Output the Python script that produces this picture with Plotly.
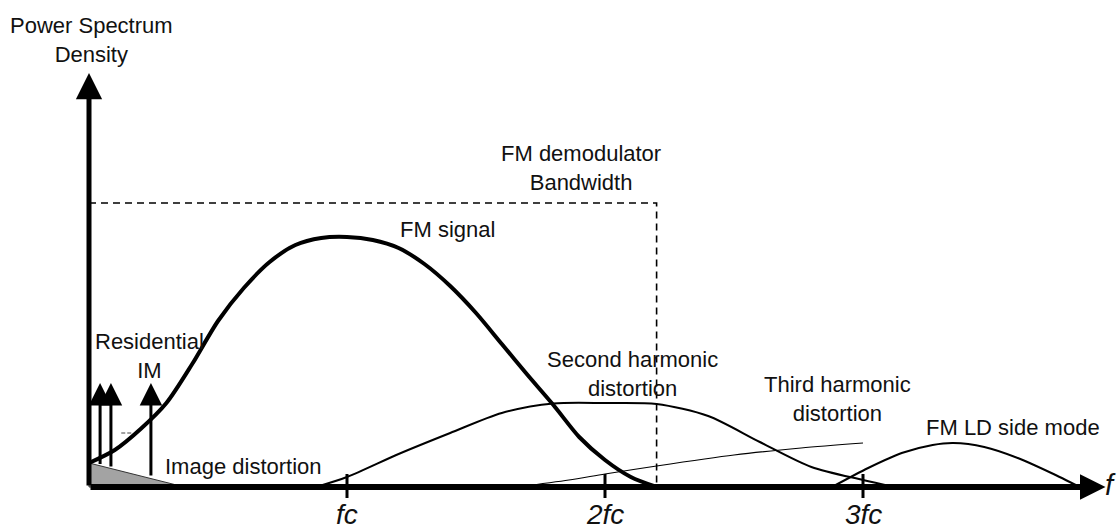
import plotly.graph_objects as go

# frequency axis in units of the carrier fc, PSD in arbitrary units
fm_x = [0.0, 0.1, 0.2, 0.3, 0.4, 0.5, 0.6, 0.7, 0.8, 0.9, 1.0, 1.1, 1.2, 1.3, 1.4, 1.5,
        1.6, 1.7, 1.8, 1.9, 2.0, 2.1, 2.2]
fm_y = [0.24, 0.37, 0.58, 0.84, 1.23, 1.66, 1.99, 2.25, 2.42, 2.49, 2.50, 2.47, 2.39, 2.23,
        2.01, 1.74, 1.43, 1.12, 0.82, 0.50, 0.27, 0.10, 0.0]

h2_x = [0.88, 1.0, 1.2, 1.4, 1.6, 1.8, 2.0, 2.2, 2.4, 2.6, 2.8, 3.0, 3.12]
h2_y = [0.0, 0.10, 0.33, 0.54, 0.74, 0.835, 0.84, 0.83, 0.71, 0.45, 0.20, 0.07, 0.0]

h3_x = [1.66, 1.86, 2.00, 2.20, 2.50, 2.76, 3.00]
h3_y = [0, 0.07, 0.13, 0.21, 0.32, 0.39, 0.44]

side_x = [2.88, 3.02, 3.15, 3.27, 3.35, 3.47, 3.60, 3.73, 3.84]
side_y = [0, 0.19, 0.34, 0.42, 0.44, 0.40, 0.29, 0.14, 0]

im_x = [0.043, 0.085, 0.24]
im_base = [0.215, 0.19, 0.10]
im_top = 1.04

image_x = [0, 0, 0.37]
image_y = [0, 0.24, 0]

bw_edge = 2.20
bw_level = 2.84

tick_pos = [1, 2, 3]
tick_labels = ["fc", "2fc", "3fc"]

x_end = 3.94
y_end = 4.14

FONT = "Liberation Sans, Arial, sans-serif"
INK = "#000000"

fig = go.Figure()

# image distortion wedge
fig.add_trace(go.Scatter(x=image_x + [image_x[0]], y=image_y + [image_y[0]], mode="lines",
                         fill="toself", fillcolor="#a3a3a3",
                         line=dict(color="#333333", width=1), hoverinfo="skip"))

# demodulator bandwidth box
fig.add_trace(go.Scatter(x=[0, bw_edge, bw_edge], y=[bw_level, bw_level, 0], mode="lines",
                         line=dict(color=INK, width=1.6, dash="7px,5px"), hoverinfo="skip"))

# small dash near the IM lines
fig.add_trace(go.Scatter(x=[0.125, 0.17], y=[0.54, 0.54], mode="lines",
                         line=dict(color="#444444", width=1, dash="4px,2px"), hoverinfo="skip"))

# harmonic and side-mode spectra
fig.add_trace(go.Scatter(x=h3_x, y=h3_y, mode="lines",
                         line=dict(color=INK, width=1.2, shape="spline", smoothing=0.8),
                         hoverinfo="skip"))
fig.add_trace(go.Scatter(x=h2_x, y=h2_y, mode="lines",
                         line=dict(color=INK, width=2, shape="spline", smoothing=0.8),
                         hoverinfo="skip"))
fig.add_trace(go.Scatter(x=side_x, y=side_y, mode="lines",
                         line=dict(color=INK, width=2, shape="spline", smoothing=0.8),
                         hoverinfo="skip"))
# FM signal
fig.add_trace(go.Scatter(x=fm_x, y=fm_y, mode="lines",
                         line=dict(color=INK, width=4, shape="spline", smoothing=0.8),
                         hoverinfo="skip"))

# tick marks on the frequency axis
tx, ty = [], []
for p in tick_pos:
    tx += [p, p, None]
    ty += [0.13, -0.11, None]
fig.add_trace(go.Scatter(x=tx, y=ty, mode="lines", line=dict(color=INK, width=3), hoverinfo="skip"))

ann = []
# axes with arrowheads
ann.append(dict(x=x_end, y=0, ax=0, ay=0, xref="x", yref="y", axref="x", ayref="y", text="",
                showarrow=True, arrowhead=2, arrowwidth=6, arrowsize=0.85, arrowcolor=INK))
ann.append(dict(x=0, y=y_end, ax=0, ay=0, xref="x", yref="y", axref="x", ayref="y", text="",
                showarrow=True, arrowhead=2, arrowwidth=5, arrowsize=1.05, arrowcolor=INK))
# residual IM spikes
for xi, yb in zip(im_x, im_base):
    ann.append(dict(x=xi, y=im_top, ax=xi, ay=yb, xref="x", yref="y", axref="x", ayref="y", text="",
                    showarrow=True, arrowhead=2, arrowwidth=3, arrowsize=1.5, arrowcolor=INK))


def label(txt, x, y, size=22, italic=False):
    t = f"<i>{txt}</i>" if italic else txt
    return dict(x=x, y=y, xref="x", yref="y", text=t, showarrow=False, xanchor="center",
                yanchor="middle", font=dict(family=FONT, size=size, color="#111111"))


ann.append(label("Power Spectrum<br>Density", 0.008, 4.47))
ann.append(label("FM demodulator<br>Bandwidth", 1.907, 3.19))
ann.append(label("FM signal", 1.388, 2.58))
ann.append(label("Residential<br>IM", 0.236, 1.31))
ann.append(label("Second harmonic<br>distortion", 2.105, 1.13))
ann.append(label("Third harmonic<br>distortion", 2.90, 0.885))
ann.append(label("FM LD side mode", 3.581, 0.60))
ann.append(label("Image distortion", 0.597, 0.21))
for p, t in zip(tick_pos, tick_labels):
    ann.append(label(t, p, -0.27, size=28, italic=True))
ann.append(label("f", 3.961, 0.02, size=29, italic=True))

fig.update_layout(
    width=1118, height=532, autosize=False,
    margin=dict(l=0, r=0, t=0, b=0),
    paper_bgcolor="white", plot_bgcolor="white",
    showlegend=False,
    xaxis=dict(range=[-89 / 258, (1118 - 89) / 258], visible=False, fixedrange=True),
    yaxis=dict(range=[-0.45, 4.87], visible=False, fixedrange=True),
    annotations=ann,
)

fig.write_html("out.html", config={"displayModeBar": False})
